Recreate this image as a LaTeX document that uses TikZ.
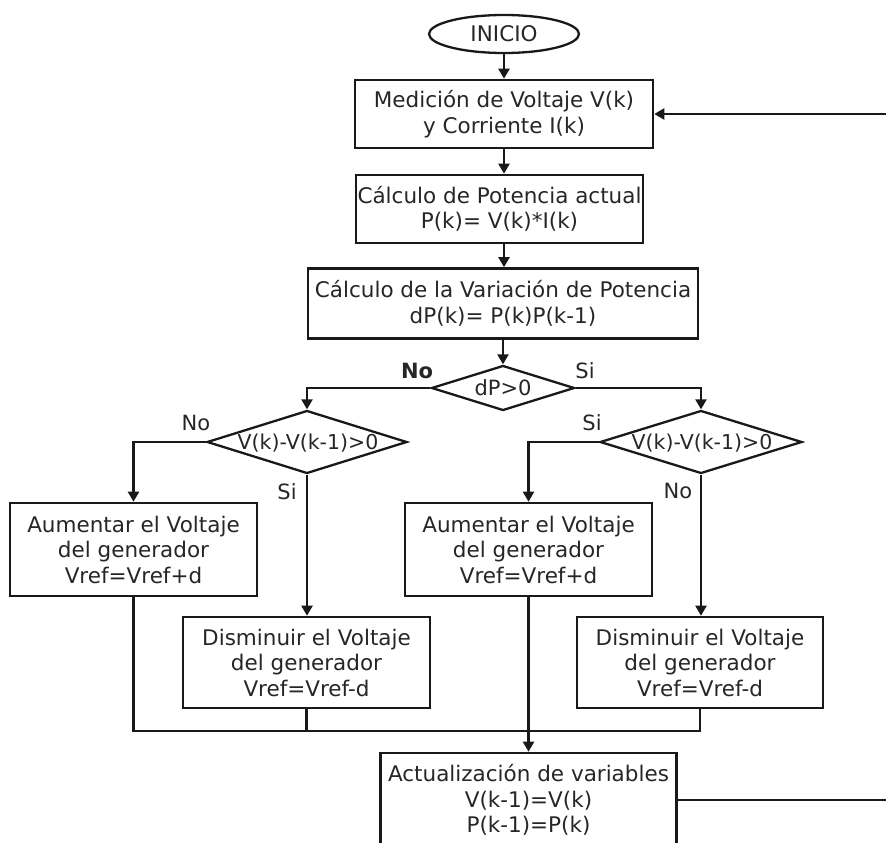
\documentclass[tikz,border=0pt]{standalone}
\usepackage{fontspec}
\setmainfont{DejaVu Sans}
\usetikzlibrary{shapes.geometric,arrows.meta}
\begin{document}
\begin{tikzpicture}[x=1pt,y=-1pt,
  font=\fontsize{21.5}{25.5}\selectfont,
  every node/.style={text=black!85},
  box/.style={draw=black!90, line width=2.6pt, rectangle, inner sep=0pt, align=center},
  decision/.style={draw=black!90, line width=2.3pt, diamond, inner sep=0pt},
  flow/.style={draw=black!90, line width=2.2pt},
  arr/.style={flow, -{Triangle[width=11pt,length=10pt]}},
  lbl/.style={inner sep=0pt, font=\fontsize{21}{25}\selectfont}
]
\useasboundingbox (0,0) rectangle (886,843);
\clip (0,0) rectangle (886,843);

% start and main column
\node[draw=black!90, ellipse, line width=2.3pt, minimum width=150pt, minimum height=38pt, inner sep=0pt] (inicio) at (504,34) {INICIO};
\node[box, minimum width=298pt, minimum height=68pt] (med) at (504,114) {Medición de Voltaje V(k)\\y Corriente I(k)};
\node[box, minimum width=287pt, minimum height=68pt] (pot) at (499.5,209) {Cálculo de Potencia actual\\P(k)= V(k)*I(k)};
\node[box, minimum width=390pt, minimum height=70pt] (var) at (503,303.5) {Cálculo de la Variación de Potencia\\dP(k)= P(k)P(k-1)};

% decisions
\node[decision, minimum width=143pt, minimum height=45pt] (dp) at (503,388) {};
\node[lbl, font=\fontsize{21}{25}\selectfont] (dpt) at (dp) {dP>0};
\node[decision, minimum width=200pt, minimum height=63pt] (dl) at (307,442) {};
\node[lbl, font=\fontsize{20.5}{24}\selectfont] (dlt) at (308,443) {V(k)-V(k-1)>0};
\node[decision, minimum width=202pt, minimum height=63pt] (dr) at (701,442) {};
\node[lbl, font=\fontsize{20.5}{24}\selectfont] (drt) at (702,443) {V(k)-V(k-1)>0};

% actions
\node[box, minimum width=247pt, minimum height=93pt] (aumL) at (133.5,549.5) {Aumentar el Voltaje\\del generador\\Vref=Vref+d};
\node[box, minimum width=247pt, minimum height=91pt] (disL) at (306.5,662.5) {Disminuir el Voltaje\\del generador\\Vref=Vref-d};
\node[box, minimum width=247pt, minimum height=93pt] (aumR) at (528.5,549.5) {Aumentar el Voltaje\\del generador\\Vref=Vref+d};
\node[box, minimum width=246pt, minimum height=91pt] (disR) at (700,662.5) {Disminuir el Voltaje\\del generador\\Vref=Vref-d};
\node[box, minimum width=296pt, minimum height=94pt] (act) at (528.5,800) {Actualización de variables\\V(k-1)=V(k)\\P(k-1)=P(k)};

% branch labels
\node[lbl, font=\fontsize{21}{25}\selectfont\bfseries] (no0) at (417,371) {No};
\node[lbl] (si0) at (585,371) {Si};
\node[lbl] (no1) at (196,423) {No};
\node[lbl] (si1) at (287,492) {Si};
\node[lbl] (si2) at (592,423) {Si};
\node[lbl] (no2) at (678,491) {No};

% junction points
\coordinate (mrg) at (700,731);
\coordinate (loop) at (900,800);

% connectors
\draw[arr] (inicio.south) -- (med.north);
\draw[arr] (med.south) -- (med.south |- pot.north);
\draw[arr] (med.south |- pot.south) -- (med.south |- var.north);
\draw[arr] (var.south) -- (dp.north);
\draw[arr] (dp.west) -| (dl.north);
\draw[arr] (dp.east) -| (dr.north);
\draw[arr] (dl.west) -| (aumL.north);
\draw[arr] (dl.south) -- (dl.south |- disL.north);
\draw[arr] (dr.west) -| (aumR.north);
\draw[arr] (dr.south) -- (dr.south |- disR.north);
\draw[flow] (aumL.south) |- (mrg) -- (disR.south);
\draw[flow] (disL.south) -- (disL.south |- mrg);
\draw[arr] (aumR.south) -- (act.north);
\draw[arr] (act.east) -- (act.east -| loop) |- (med.east);
\end{tikzpicture}
\end{document}
